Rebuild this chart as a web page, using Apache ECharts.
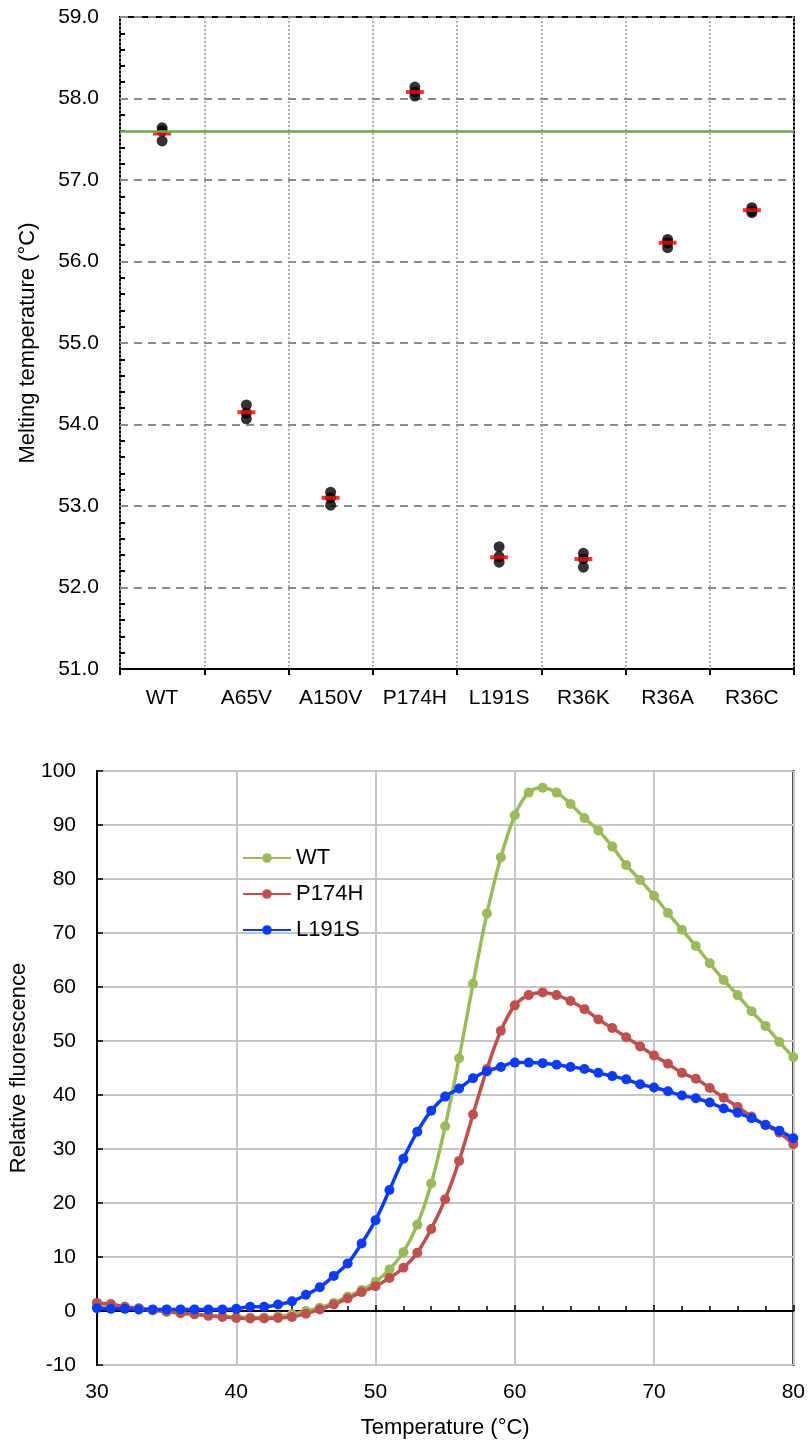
<!DOCTYPE html>
<html>
<head>
<meta charset="utf-8">
<script src="https://cdn.jsdelivr.net/npm/echarts@6/dist/echarts.min.js"></script>
<style>
  html, body { margin: 0; padding: 0; background: #fff; }
  #chart { width: 808px; height: 1444px; }
</style>
</head>
<body>
<div id="chart"></div>
<script>
// melting temperatures, three replicates per variant
const mutants = ["WT", "A65V", "A150V", "P174H", "L191S", "R36K", "R36A", "R36C"];
const rep1 = [57.64, 54.24, 53.17, 58.14, 52.50, 52.42, 56.27, 56.66];
const rep2 = [57.60, 54.14, 53.10, 58.08, 52.38, 52.35, 56.23, 56.62];
const rep3 = [57.48, 54.07, 53.01, 58.03, 52.31, 52.25, 56.17, 56.60];
const tmMean = [57.57, 54.15, 53.10, 58.08, 52.37, 52.35, 56.23, 56.63];
const wtReference = 57.6;

// thermal shift curves
const temps = [30, 31, 32, 33, 34, 35, 36, 37, 38, 39, 40, 41, 42, 43, 44, 45, 46, 47, 48, 49,
  50, 51, 52, 53, 54, 55, 56, 57, 58, 59, 60, 61, 62, 63, 64, 65, 66, 67, 68, 69,
  70, 71, 72, 73, 74, 75, 76, 77, 78, 79, 80];
const wtCurve = [1.0, 0.8, 0.6, 0.4, 0.1, -0.2, -0.4, -0.6, -0.8, -1.0, -1.1, -1.2, -1.2, -1.0, -0.6, 0.0,
  0.6, 1.5, 2.7, 3.9, 5.4, 7.7, 10.9, 16.0, 23.6, 34.2, 46.8, 60.6, 73.6, 84.0,
  91.8, 96.0, 96.9, 96.0, 93.9, 91.3, 89.0, 86.0, 82.6, 79.8, 76.9, 73.7, 70.6,
  67.6, 64.4, 61.3, 58.5, 55.5, 52.8, 49.8, 47.0];
const p174hCurve = [1.5, 1.3, 0.8, 0.5, 0.2, -0.1, -0.4, -0.6, -0.9, -1.1, -1.3, -1.4, -1.4, -1.3, -1.1, -0.5,
  0.3, 1.2, 2.3, 3.5, 4.6, 6.1, 8.0, 10.8, 15.2, 20.7, 27.8, 36.4, 44.8, 51.9,
  56.6, 58.5, 59.0, 58.5, 57.4, 55.9, 54.0, 52.4, 50.7, 49.0, 47.3, 45.8, 44.1,
  43.0, 41.3, 39.5, 37.8, 36.0, 34.4, 33.0, 30.9];
const l191sCurve = [0.5, 0.4, 0.4, 0.3, 0.3, 0.3, 0.3, 0.3, 0.3, 0.3, 0.4, 0.8, 0.8, 1.2, 1.8, 3.0,
  4.4, 6.5, 8.8, 12.5, 16.8, 22.4, 28.2, 33.2, 37.1, 39.7, 41.2, 43.1, 44.4, 45.2,
  46.0, 46.0, 45.9, 45.6, 45.2, 44.8, 44.1, 43.5, 42.9, 42.0, 41.4, 40.7, 39.9,
  39.4, 38.6, 37.5, 36.7, 35.7, 34.5, 33.4, 32.0];

const font = "Liberation Sans, Arial, sans-serif";

function pairs(ys) {
  return temps.map((t, i) => [t, ys[i]]);
}

function curve(name, color, ys) {
  return {
    name: name,
    type: "line",
    xAxisIndex: 1,
    yAxisIndex: 1,
    smooth: 0.35,
    symbol: "circle",
    symbolSize: 10,
    showSymbol: true,
    lineStyle: { width: 3.5, color: color },
    itemStyle: { color: color },
    data: pairs(ys),
  };
}

const option = {
  backgroundColor: "#fff",
  animation: false,
  textStyle: { fontFamily: font, color: "#000" },
  grid: [
    { left: 120, top: 17, width: 674, height: 652, show: true, borderColor: "#000", borderWidth: 2 },
    { left: 97, top: 771, width: 697, height: 594, show: true, borderColor: "#000", borderWidth: 2 },
  ],
  legend: {
    data: ["WT", "P174H", "L191S"],
    orient: "vertical",
    left: 237,
    top: 842,
    itemWidth: 48,
    itemHeight: 12,
    itemGap: 14,
    textStyle: { fontSize: 22, color: "#000", fontFamily: font },
  },
  xAxis: [
    {
      gridIndex: 0,
      type: "category",
      data: mutants,
      boundaryGap: true,
      axisLine: { lineStyle: { color: "#000", width: 2 } },
      axisTick: { show: true, length: 6, lineStyle: { color: "#000", width: 2 } },
      axisLabel: { fontSize: 21, color: "#000", margin: 19 },
      splitLine: { show: true, lineStyle: { color: "#999", width: 1.5, type: [2, 2] } },
    },
    {
      gridIndex: 1,
      type: "value",
      min: 30,
      max: 80,
      interval: 10,
      name: "Temperature (°C)",
      nameLocation: "middle",
      nameGap: 52,
      nameTextStyle: { fontSize: 22, color: "#000" },
      axisLine: { lineStyle: { color: "#000", width: 2 } },
      axisTick: { inside: true, length: 6, lineStyle: { color: "#000", width: 1.5 } },
      minorTick: { show: true, splitNumber: 5, length: 5, lineStyle: { color: "#000", width: 1.5 } },
      axisLabel: { fontSize: 21, color: "#000", margin: 17 },
      splitLine: { show: true, lineStyle: { color: "#c6c6c6", width: 2 } },
    },
  ],
  yAxis: [
    {
      gridIndex: 0,
      type: "value",
      min: 51,
      max: 59,
      interval: 1,
      name: "Melting temperature (°C)",
      nameLocation: "middle",
      nameGap: 81,
      nameTextStyle: { fontSize: 22, color: "#000" },
      axisLine: { lineStyle: { color: "#000", width: 2 } },
      axisTick: { inside: true, length: 6, lineStyle: { color: "#000", width: 2 } },
      minorTick: { show: true, splitNumber: 5, length: 5, lineStyle: { color: "#000", width: 2 } },
      axisLabel: { fontSize: 21, color: "#000", margin: 21, formatter: (v) => v.toFixed(1) },
      splitLine: { show: true, lineStyle: { color: "#8c8c8c", width: 2, type: [8, 6] } },
    },
    {
      gridIndex: 1,
      type: "value",
      min: -10,
      max: 100,
      interval: 10,
      name: "Relative fluorescence",
      nameLocation: "middle",
      nameGap: 58,
      nameTextStyle: { fontSize: 22, color: "#000" },
      axisLine: { lineStyle: { color: "#000", width: 2 } },
      axisTick: { inside: true, length: 6, lineStyle: { color: "#000", width: 1.5 } },
      axisLabel: { fontSize: 21, color: "#000", margin: 21 },
      splitLine: { show: true, lineStyle: { color: "#c6c6c6", width: 2 } },
    },
  ],
  series: [
    {
      name: "replicates",
      type: "scatter",
      xAxisIndex: 0,
      yAxisIndex: 0,
      symbol: "circle",
      symbolSize: 11,
      itemStyle: { color: "#000" },
      data: [].concat(
        mutants.map((m, i) => [m, rep1[i]]),
        mutants.map((m, i) => [m, rep2[i]]),
        mutants.map((m, i) => [m, rep3[i]])
      ),
      markLine: {
        silent: true,
        symbol: "none",
        label: { show: false },
        lineStyle: { color: "#6fab45", width: 2.5, type: "solid" },
        data: [{ yAxis: wtReference }],
      },
      z: 3,
    },
    {
      name: "mean",
      type: "scatter",
      xAxisIndex: 0,
      yAxisIndex: 0,
      symbol: "rect",
      symbolSize: [18, 4],
      itemStyle: { color: "#ff0000" },
      data: mutants.map((m, i) => [m, tmMean[i]]),
      z: 4,
    },
    curve("WT", "#9bbb59", wtCurve),
    curve("P174H", "#c0504d", p174hCurve),
    curve("L191S", "#0a3cff", l191sCurve),
  ],
};

const chart = echarts.init(document.getElementById("chart"), null, { renderer: "canvas" });
chart.setOption(option);
</script>
</body>
</html>
